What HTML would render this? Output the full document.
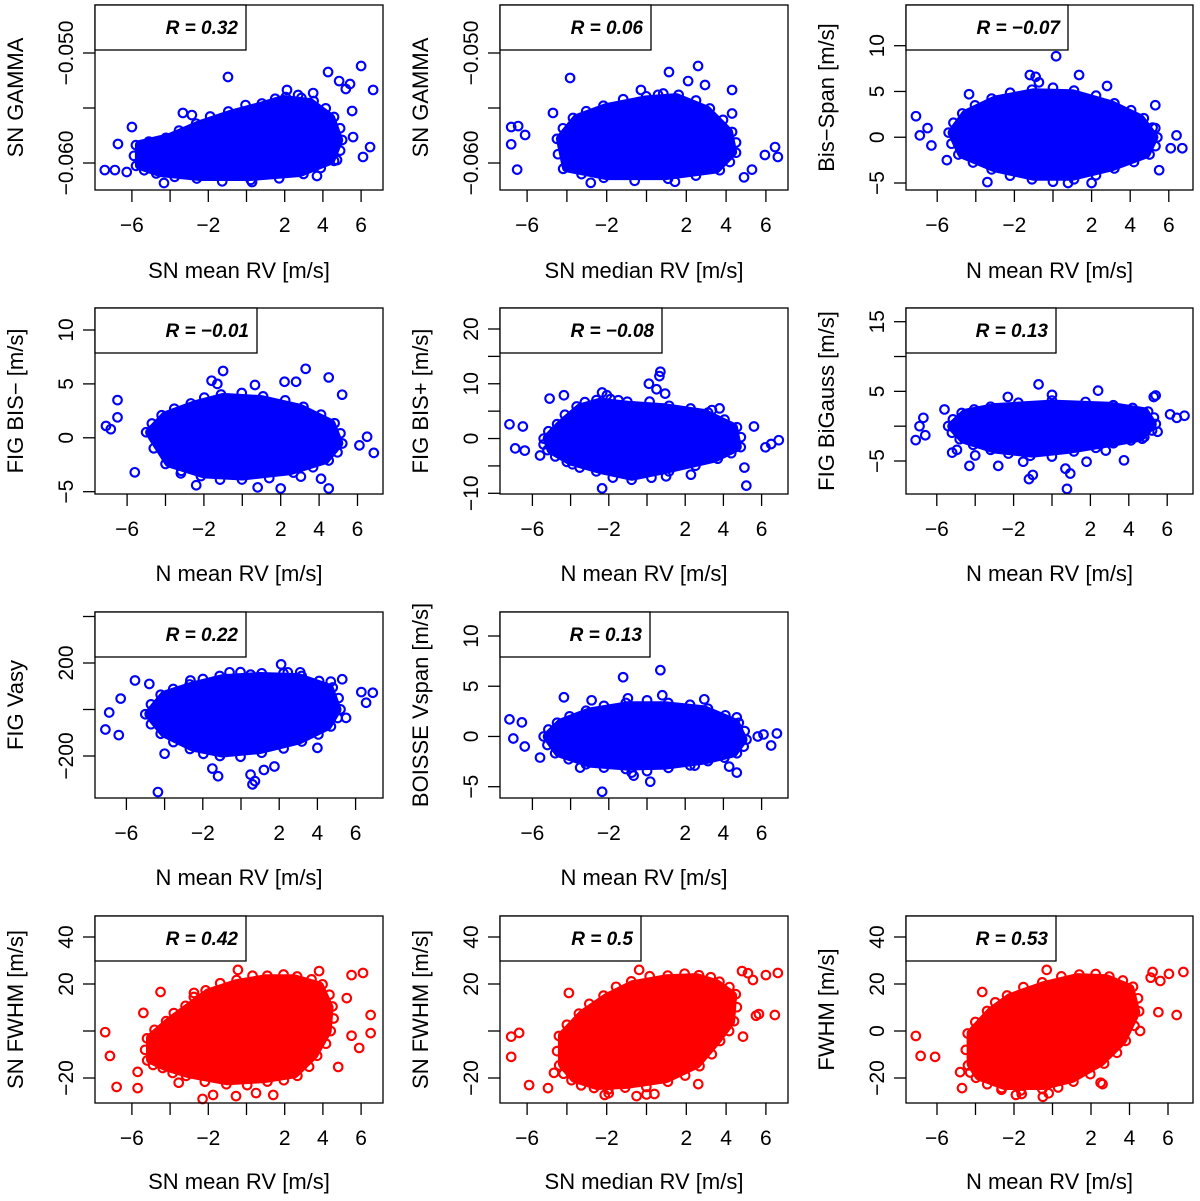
<!DOCTYPE html>
<html><head><meta charset="utf-8">
<style>
html,body{margin:0;padding:0;background:#fff;}
svg{display:block;font-family:"Liberation Sans",sans-serif;}
</style></head>
<body>
<svg id="chart" width="1200" height="1201" viewBox="0 0 1200 1201" xmlns="http://www.w3.org/2000/svg"></svg>
<script>
// ---------- data ----------
const xTicks = [-6,-4,-2,0,2,4,6];
const xTickLabels = ["\u22126","","\u22122","","2","4","6"];

const p1Hull = [[-5.58,-0.05836],[-4.01,-0.05773],[-2.44,-0.05655],[-0.86,-0.05564],[0.71,-0.05491],[1.91,-0.05427],[3.33,-0.05455],[4.38,-0.05591],[4.8,-0.05791],[4.38,-0.05973],[2.8,-0.06082],[0.18,-0.06118],[-2.44,-0.06118],[-4.53,-0.06082],[-5.58,-0.06018]];
const p1Out = [[-0.97,-0.05218],[6.0,-0.05118],[4.27,-0.05173],[6.63,-0.05336],[4.85,-0.05255],[5.2,-0.05327],[5.42,-0.05282],[-7.42,-0.06064],[-4.32,-0.06182],[-6.0,-0.05673],[-6.73,-0.05827],[6.47,-0.05855],[6.1,-0.05945],[4.74,-0.05973],[3.69,-0.06118],[0.29,-0.06173],[-3.33,-0.05545],[-2.86,-0.05564],[2.12,-0.05336],[2.7,-0.05382],[3.49,-0.05364],[5.53,-0.05527],[5.58,-0.05764],[-6.89,-0.06064],[-6.27,-0.06082]];

const p2Hull = [[-4.3,-0.0578],[-3.5,-0.056],[-2,-0.055],[0,-0.0543],[1.5,-0.0541],[3,-0.0552],[4.1,-0.0572],[4.3,-0.059],[3.5,-0.0605],[1,-0.0611],[-2,-0.0611],[-4,-0.0604]];
const p2Out = [[-3.84,-0.05227],[2.59,-0.05118],[1.13,-0.05173],[2.09,-0.05255],[2.94,-0.05291],[4.3,-0.05336],[-6.8,-0.05673],[-6.45,-0.05664],[-6.8,-0.0583],[-6.5,-0.0606],[6.46,-0.05855],[6.6,-0.05945],[5.95,-0.05927],[-2.8,-0.0618],[-4.7,-0.05545],[-0.28,-0.05336],[0.58,-0.0538],[4.3,-0.0555],[5.3,-0.0606],[4.9,-0.0613],[-6.1,-0.05745],[1.43,-0.0617]];

const p3Hull = [[-5.2,0.5],[-4.5,2.5],[-3,4],[-1,4.8],[1,4.7],[3,3.5],[4.5,2],[5.2,0],[4.8,-1.8],[3,-3.2],[1,-4.2],[-1,-4.2],[-3,-3.3],[-4.7,-1.8]];
const p3Out = [[0.16,8.85],[-1.2,6.8],[-0.9,6.6],[-0.73,6.0],[1.35,6.8],[2.8,5.6],[-4.35,4.7],[-7.1,2.3],[-6.9,0.2],[-6.5,1.0],[-6.3,-0.9],[-5.5,-2.5],[-3.4,-4.9],[0.78,-5.0],[2.0,-5.0],[5.5,-3.6],[6.1,-1.2],[6.4,0.2],[6.7,-1.2],[5.3,1.0],[5.3,3.5]];

const p4Hull = [[-4.8,0.5],[-4,2],[-2.5,3],[-1,3.7],[1,3.5],[3,2.7],[4.6,1.3],[5,-0.5],[4.3,-2],[2.5,-3],[0,-3.5],[-2,-3.3],[-3.8,-2.3]];
const p4Out = [[-1.0,6.2],[3.3,6.4],[4.5,5.6],[5.2,4.0],[2.2,5.2],[2.8,5.2],[-1.6,5.3],[-1.3,5.0],[0.66,4.9],[-6.5,3.5],[-6.5,1.9],[-7.1,1.1],[-6.85,0.8],[-5.6,-3.2],[-2.4,-4.4],[0.8,-4.6],[2.0,-4.7],[4.5,-4.7],[4.1,-3.8],[6.5,0.1],[6.85,-1.4],[6.1,-0.7],[-3.2,-3.3],[3.05,-3.6]];

const p5Hull = [[-5.2,0],[-4.5,2.5],[-3.5,5.5],[-2.5,6.5],[-1,6],[1,5.5],[3,4.5],[4.5,2],[4.7,-1.5],[3.5,-3.5],[1,-5.5],[-0.8,-6.8],[-2.5,-5.5],[-4,-4],[-5,-2]];
const p5Out = [[0.7,12.2],[0.65,11.4],[0.1,10],[0.5,9.0],[0.95,8.2],[-2.35,8.4],[-2.1,7.9],[-1.5,7.0],[-5.1,7.3],[-4.35,7.9],[-7.2,2.6],[-6.5,2.2],[-6.9,-1.8],[-6.4,-2.2],[-5.6,-3.1],[-3.9,-4.7],[-2.35,-9.1],[1.0,-6.9],[2.3,-6.6],[5.2,-8.6],[5.1,-5.3],[5.6,2.2],[6.2,-1.6],[6.9,-0.3],[6.5,-1.0],[3.4,5.2],[3.8,5.5]];

const p6Hull = [[-5.2,0],[-4.5,1.8],[-3,2.6],[0,3.1],[3,2.8],[4.8,2],[5.2,0.3],[4.6,-1.5],[3,-2.3],[1,-3.2],[-1,-3.8],[-3,-3.2],[-4.6,-1.8]];
const p6Out = [[-0.7,6.0],[2.4,5.1],[5.3,4.2],[5.4,4.4],[-2.3,4.2],[0.0,4.5],[-5.6,2.4],[-6.7,1.2],[-6.9,0],[-7.1,-2.0],[-6.6,-1.3],[6.15,1.7],[6.5,1.2],[6.9,1.5],[5.5,-0.8],[4.7,-1.8],[3.75,-4.9],[-5.2,-3.8],[-4.95,-3.4],[-4.3,-5.7],[-2.8,-5.7],[-1.5,-5.1],[-1.2,-7.6],[-1.0,-7.0],[0.78,-9.0],[0.95,-6.8],[0.7,-6.1],[1.8,-5.1],[2.8,-3.5],[-4.0,-4.2]];

const p7Hull = [[-4.8,-20],[-4,60],[-2.5,100],[-1,130],[1,140],[3,135],[4.6,90],[5,0],[4.5,-70],[3,-130],[1,-170],[-1,-185],[-2.5,-160],[-4,-100]];
const p7Out = [[2.1,194],[-0.6,160],[0.5,150],[2.45,160],[3.1,160],[-5.55,125],[-7.1,-86],[-6.9,-13],[-6.4,-110],[-6.3,47],[-4.35,-355],[-1.5,-254],[-1.2,-287],[0.73,-308],[0.6,-322],[0.5,-280],[1.75,-245],[1.2,-260],[-4.0,-190],[4.0,-165],[5.5,-36],[6.55,29],[6.9,72],[6.3,75],[5.3,130],[4.7,120],[-2.65,125],[-4.8,110]];

const p8Hull = [[-5.2,0],[-4.5,1.3],[-3,2.4],[-1,3],[1,3],[3,2.6],[4.6,1.3],[5,-0.3],[4.5,-1.6],[3,-2.3],[1,-2.8],[-1,-2.9],[-3,-2.6],[-4.6,-1.6]];
const p8Out = [[0.7,6.6],[-1.25,5.9],[-1.0,3.8],[0.8,4.1],[-4.35,3.9],[-2.9,3.6],[3.0,3.7],[-7.2,1.7],[-6.55,1.4],[-7.0,-0.2],[-6.4,-1.0],[-5.6,-2.1],[-3.5,-3.1],[-0.7,-3.9],[-0.8,-3.6],[0.17,-4.5],[-2.35,-5.5],[2.5,-2.9],[4.3,-3.0],[4.7,-3.6],[5.8,0],[6.5,-0.9],[6.8,0.3],[6.1,0.2],[4.7,1.9]];

const p10Hull = [[-5.0,-12],[-5.0,-3],[-4,4],[-3,10],[-2,16],[-0.5,20],[1,22],[2.5,22],[3.8,19],[4.3,10],[4.2,0],[3.5,-10],[2.5,-18],[1,-20],[-1,-21],[-3,-18],[-4.2,-15]];
const p10Out = [[-0.45,26],[3.8,25.5],[5.5,23.8],[6.1,24.7],[6.5,6.8],[6.5,-0.9],[5.9,-7.2],[5.5,-2],[-7.4,-0.5],[-7.15,-10.6],[-6.8,-23.8],[-5.7,-24.3],[-5.7,-17.4],[-4.5,16.6],[-2.75,16.2],[-2.3,-28.9],[-1.75,-27.2],[-0.55,-27.7],[0.5,-26.4],[1.4,-27.2],[4.8,-15.3],[-3.55,-22],[5.25,14],[-5.4,7.7]];

const p11Hull = [[-4.2,-14],[-4.2,-2],[-3.2,7],[-2,14],[-0.7,19.5],[1,22],[2.5,22.5],[3.5,20],[4.3,15],[4.2,4],[3.5,-4],[2.5,-14],[1,-20],[-1,-22.5],[-2.5,-23],[-3.6,-20]];
const p11Out = [[-0.37,26],[4.8,25.5],[5.1,24.6],[6.0,23.8],[6.6,24.7],[5.35,21.7],[6.45,6.8],[5.65,7.2],[5.5,6.5],[-3.9,16.2],[-6.8,-2.4],[-6.4,-0.8],[-6.8,-11],[-5.9,-23],[-4.95,-24.3],[-4.65,-17.8],[-2.1,-27.2],[-1.9,-26.5],[-0.5,-27.7],[0.0,-27],[0.4,-26.8],[2.6,-22.6],[4.85,-2.4]];

const p12Hull = [[-4.2,-14],[-4.2,-1],[-3.2,8],[-2.2,14],[-0.5,19],[1.3,22.5],[2.8,22],[4,18],[4.3,8],[3.6,-4],[2.5,-13],[1,-20],[-0.5,-23],[-2.5,-23],[-3.8,-19]];
const p12Out = [[-0.3,26],[5.2,25.1],[5.1,22.7],[5.6,21.3],[6.05,24.3],[6.8,25.1],[6.45,6.8],[5.5,8],[4.55,0],[-7.1,-2.1],[-6.85,-10.6],[-6.1,-11],[-4.7,-24.3],[-4.8,-17.5],[-3.65,16.6],[-2.65,-25],[-1.9,-27.2],[-1.6,-26.8],[-0.5,-28],[-0.2,-26.5],[2.6,-22.6],[2.5,-22],[2.7,-10.2]];

const gammaTicks = [-0.060,-0.055,-0.050];
const gammaTickLabels = ["\u22120.060","","\u22120.050"];
const p3Ticks = [-5,0,5,10];
const p3TickLabels = ["\u22125","0","5","10"];
const p4Ticks = [-5,0,5,10];
const p4TickLabels = ["\u22125","0","5","10"];
const p5Ticks = [-10,-5,0,5,10,15,20];
const p5TickLabels = ["\u221210","","0","","10","","20"];
const p6Ticks = [-5,0,5,10,15];
const p6TickLabels = ["\u22125","","5","","15"];
const p7Ticks = [-200,0,200,400];
const p7TickLabels = ["\u2212200","","200",""];
const p8Ticks = [-5,0,5,10];
const p8TickLabels = ["\u22125","0","5","10"];
const fwhmTicks = [-20,0,20,40];
const fwhmTickLabels = ["\u221220","","20","40"];
const p12TickLabels = ["\u221220","0","20","40"];

const rValues = ["0.32","0.06","\u22120.07","\u22120.01","\u22120.08","0.13","0.22","0.13","0.42","0.5","0.53"];

// ---------- layout (pixels, not data) ----------
const panels = [
 {id:"p1", box:[95,5,383,190], x0:246.5, xu:19.1, yA:[-0.060,163], yB:[-0.050,53], legW:151, hull:p1Hull, out:p1Out, yt:gammaTicks, ytl:gammaTickLabels, ytitle:"SN GAMMA", xtitle:"SN mean RV [m/s]", col:"#0000ff"},
 {id:"p2", box:[500,5,788,190], x0:646.5, xu:19.9, yA:[-0.060,163], yB:[-0.050,53], legW:151, hull:p2Hull, out:p2Out, yt:gammaTicks, ytl:gammaTickLabels, ytitle:"SN GAMMA", xtitle:"SN median RV [m/s]", col:"#0000ff"},
 {id:"p3", box:[906,5,1193,190], x0:1053, xu:19.3, yA:[10,45.7], yB:[-5,183], legW:162, hull:p3Hull, out:p3Out, yt:p3Ticks, ytl:p3TickLabels, ytitle:"Bis\u2212Span [m/s]", xtitle:"N mean RV [m/s]", col:"#0000ff"},
 {id:"p4", box:[95,308,383,494], x0:242.3, xu:19.2, yA:[10,330], yB:[-5,491.7], legW:162, hull:p4Hull, out:p4Out, yt:p4Ticks, ytl:p4TickLabels, ytitle:"FIG BIS\u2212 [m/s]", xtitle:"N mean RV [m/s]", col:"#0000ff"},
 {id:"p5", box:[500,308,788,494], x0:647, xu:19.1, yA:[20,329], yB:[-10,493.3], legW:162, hull:p5Hull, out:p5Out, yt:p5Ticks, ytl:p5TickLabels, ytitle:"FIG BIS+ [m/s]", xtitle:"N mean RV [m/s]", col:"#0000ff"},
 {id:"p6", box:[906,308,1193,494], x0:1052, xu:19.2, yA:[15,321.7], yB:[-5,461], legW:150, hull:p6Hull, out:p6Out, yt:p6Ticks, ytl:p6TickLabels, ytitle:"FIG BiGauss [m/s]", xtitle:"N mean RV [m/s]", col:"#0000ff"},
 {id:"p7", box:[95,612,383,798], x0:241, xu:19.1, yA:[200,663], yB:[-200,756], legW:151, hull:p7Hull, out:p7Out, yt:p7Ticks, ytl:p7TickLabels, ytitle:"FIG Vasy", xtitle:"N mean RV [m/s]", col:"#0000ff"},
 {id:"p8", box:[500,612,788,798], x0:647, xu:19.1, yA:[10,636], yB:[-5,786.7], legW:150, hull:p8Hull, out:p8Out, yt:p8Ticks, ytl:p8TickLabels, ytitle:"BOISSE Vspan [m/s]", xtitle:"N mean RV [m/s]", col:"#0000ff"},
 {id:"p10", box:[95,916,383,1103], x0:246.5, xu:19.1, yA:[40,937], yB:[-20,1078], legW:151, hull:p10Hull, out:p10Out, yt:fwhmTicks, ytl:fwhmTickLabels, ytitle:"SN FWHM [m/s]", xtitle:"SN mean RV [m/s]", col:"#ff0000"},
 {id:"p11", box:[500,916,788,1103], x0:646.5, xu:19.9, yA:[40,937], yB:[-20,1078], legW:141, hull:p11Hull, out:p11Out, yt:fwhmTicks, ytl:fwhmTickLabels, ytitle:"SN FWHM [m/s]", xtitle:"SN median RV [m/s]", col:"#ff0000"},
 {id:"p12", box:[906,916,1193,1103], x0:1052.5, xu:19.25, yA:[40,937], yB:[-20,1078], legW:150, hull:p12Hull, out:p12Out, yt:fwhmTicks, ytl:p12TickLabels, ytitle:"FWHM [m/s]", xtitle:"N mean RV [m/s]", col:"#ff0000"}
];

const NS = "http://www.w3.org/2000/svg";
const svg = document.getElementById("chart");
function mk(tag, attrs, parent){
  const e = document.createElementNS(NS, tag);
  for (const k in attrs) e.setAttribute(k, attrs[k]);
  (parent||svg).appendChild(e);
  return e;
}

panels.forEach((p, i) => {
  const [L,T,R,B] = p.box;
  const xs = v => p.x0 + v * p.xu;
  const ppu = (p.yB[1] - p.yA[1]) / (p.yB[0] - p.yA[0]);
  const ys = v => p.yA[1] + (v - p.yA[0]) * ppu;

  const g = mk("g", {});
  
  

  // dense core of the cloud
  const d = p.hull.map((q, k) => (k ? "L" : "M") + xs(q[0]).toFixed(1) + " " + ys(q[1]).toFixed(1)).join(" ") + " Z";
  const core = mk("path", {d:d, fill:p.col, stroke:p.col, "stroke-width":10, "stroke-linejoin":"round"}, g);
  
  

  // rough edge: circles at hull vertices and edge midpoints, pushed slightly outward
  const cx0 = p.hull.reduce((s,q)=>s+xs(q[0]),0)/p.hull.length;
  const cy0 = p.hull.reduce((s,q)=>s+ys(q[1]),0)/p.hull.length;
  p.hull.forEach((q, k) => {
    const n = p.hull[(k+1) % p.hull.length];
    const pts = [[xs(q[0]), ys(q[1])], [(xs(q[0])+xs(n[0]))/2, (ys(q[1])+ys(n[1]))/2]];
    pts.forEach((pt, j) => {
      const dx = pt[0]-cx0, dy = pt[1]-cy0, len = Math.hypot(dx,dy) || 1;
      const off = j ? 6 : 4;
      const c = mk("circle", {cx:pt[0]+dx/len*off, cy:pt[1]+dy/len*off, r:4.3, fill:"none", stroke:p.col, "stroke-width":2.1}, g);
      
      
    });
  });
  p.out.forEach(q => {
    const c = mk("circle", {cx:xs(q[0]), cy:ys(q[1]), r:4.3, fill:"none", stroke:p.col, "stroke-width":2.1}, g);
    
    
  });

  // box
  const bx = mk("rect", {x:L, y:T, width:R-L, height:B-T, fill:"none", stroke:"#000", "stroke-width":1.3}, g);
  
  

  // x axis
  xTicks.forEach((v, k) => {
    const x = xs(v);
    const t = mk("line", {x1:x, x2:x, y1:B, y2:B+12, stroke:"#000", "stroke-width":1.3}, g);
    
    
    if (xTickLabels[k]) {
      const tl = mk("text", {x:x, y:B+42, "text-anchor":"middle", "font-size":21}, g);
      tl.textContent = xTickLabels[k];
      
      
    }
  });
  const xt = mk("text", {x:(L+R)/2, y:T+273, "text-anchor":"middle", "font-size":22}, g);
  xt.textContent = p.xtitle;
  
  

  // y axis
  p.yt.forEach((v, k) => {
    const y = ys(v);
    const t = mk("line", {x1:L-12, x2:L, y1:y, y2:y, stroke:"#000", "stroke-width":1.3}, g);
    
    
    if (p.ytl[k]) {
      const tx = L - 22;
      const tl = mk("text", {x:tx, y:y, "text-anchor":"middle", "font-size":21, transform:"rotate(-90 " + tx + " " + y + ")"}, g);
      tl.textContent = p.ytl[k];
      
      
    }
  });
  const ty = (T+B)/2, tx2 = L - 72;
  const yt = mk("text", {x:tx2, y:ty, "text-anchor":"middle", "font-size":22, transform:"rotate(-90 " + tx2 + " " + ty + ")"}, g);
  yt.textContent = p.ytitle;
  
  

  // legend
  const lg = mk("rect", {x:L, y:T, width:p.legW, height:45, fill:"#fff", stroke:"#000", "stroke-width":1.3}, g);
  
  
  const lt = mk("text", {x:L+p.legW-8, y:T+29, "text-anchor":"end", "font-size":19, "font-weight":"bold", "font-style":"italic"}, g);
  lt.textContent = "R = " + rValues[i];
  
  
});
</script>
</body></html>
